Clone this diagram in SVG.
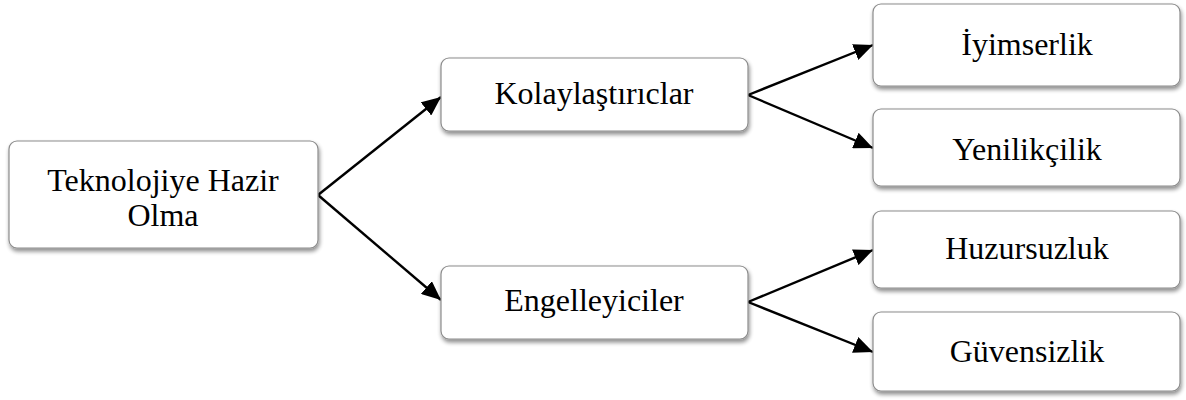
<svg xmlns="http://www.w3.org/2000/svg" width="1186" height="400" viewBox="0 0 1186 400">
<defs>
<filter id="sh" x="-10%" y="-10%" width="130%" height="140%">
<feGaussianBlur in="SourceAlpha" stdDeviation="2"/>
<feOffset dx="1" dy="3"/>
<feComponentTransfer><feFuncA type="linear" slope="0.45"/></feComponentTransfer>
<feMerge><feMergeNode/><feMergeNode in="SourceGraphic"/></feMerge>
</filter>
<marker id="ah" viewBox="0 0 10 10" refX="10" refY="5" markerWidth="8" markerHeight="7" markerUnits="strokeWidth" orient="auto" preserveAspectRatio="none">
<path d="M0,0 L10,5 L0,10 z" fill="#000"/>
</marker>
</defs>
<style>
.box{fill:#fff;stroke:#8c8c8c;stroke-width:1.2;filter:url(#sh)}
.t{font-family:"Liberation Serif","Times New Roman",serif;font-size:32px;fill:#000;text-anchor:middle}
.c{stroke:#000;stroke-width:2.4;fill:none;marker-end:url(#ah)}
</style>
<g id="connectors">
<path class="c" d="M318,195 L441,97"/>
<path class="c" d="M318,195 L441,300"/>
<path class="c" d="M748,95 L873,45"/>
<path class="c" d="M748,95 L873,148"/>
<path class="c" d="M748,302 L873,250"/>
<path class="c" d="M748,302 L873,352"/>
</g>
<g id="n-root"><rect class="box" x="9" y="141" width="309" height="107" rx="8"/><text class="t" x="163" y="191">Teknolojiye Hazir</text><text class="t" x="163" y="226">Olma</text></g>
<g id="n-kolay"><rect class="box" x="441" y="58" width="307" height="73" rx="8"/><text class="t" x="594" y="104">Kolaylaştırıclar</text></g>
<g id="n-engel"><rect class="box" x="441" y="266" width="307" height="73" rx="8"/><text class="t" x="594" y="311">Engelleyiciler</text></g>
<g id="n-iyim"><rect class="box" x="873" y="4" width="307" height="82" rx="8"/><text class="t" x="1027" y="55">İyimserlik</text></g>
<g id="n-yeni"><rect class="box" x="873" y="109" width="307" height="77" rx="8"/><text class="t" x="1027" y="160">Yenilikçilik</text></g>
<g id="n-huzur"><rect class="box" x="873" y="211" width="307" height="77" rx="8"/><text class="t" x="1027" y="259">Huzursuzluk</text></g>
<g id="n-guven"><rect class="box" x="873" y="312" width="307" height="79" rx="8"/><text class="t" x="1027" y="362">Güvensizlik</text></g>
</svg>
